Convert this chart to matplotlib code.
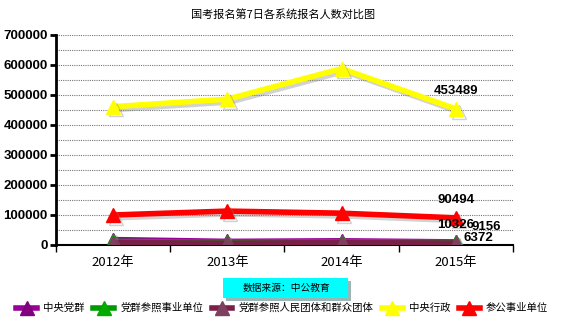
import matplotlib
matplotlib.use('Agg')
import matplotlib.pyplot as plt
import matplotlib.patheffects as pe
from matplotlib.lines import Line2D
from matplotlib.patches import Rectangle

plt.rcParams['font.family'] = ['Noto Sans CJK SC', 'DejaVu Sans']

years = ['2012年', '2013年', '2014年', '2015年']
names = ['中央党群', '党群参照事业单位', '党群参照人民团体和群众团体', '中央行政', '参公事业单位']
colors = ['#990099', '#009900', '#7a1f4a', '#ffff00', '#ff0000']
marker_colors = ['#800080', '#00aa00', '#7f4060', '#ffff00', '#ff0000']

zhongyang_dangqun = [18000, 12000, 14000, 10326]
dangqun_shiye = [12000, 9000, 11000, 9156]
dangqun_tuanti = [8000, 6000, 8000, 6372]
zhongyang_xingzheng = [461000, 486000, 588000, 453489]
cangong_shiye = [100000, 113000, 106000, 90494]
series = [zhongyang_dangqun, dangqun_shiye, dangqun_tuanti, zhongyang_xingzheng, cangong_shiye]

fig = plt.figure(figsize=(5.7, 3.27), dpi=100)
ax = fig.add_axes([0.0982, 0.2508, 0.8018, 0.6422])

x = [i + 0.5 for i in range(len(years))]
shadow = [pe.SimpleLineShadow(offset=(2, -2), alpha=0.35, shadow_color='gray'), pe.Normal()]
for vals, c, mc in zip(series, colors, marker_colors):
    ax.plot(x, vals, color=c, lw=4, marker='^', markersize=10, markerfacecolor=mc,
            markeredgecolor=mc, solid_capstyle='butt', path_effects=shadow, zorder=3)

num = dict(family=['Liberation Sans', 'DejaVu Sans'], fontweight='bold')

ax.set_xlim(0, 4)
ax.set_ylim(0, 700000)
ax.set_yticks(range(0, 700001, 100000))
ax.set_yticks(range(50000, 700000, 100000), minor=True)
ax.yaxis.grid(True, which='both', linestyle=(0, (1, 1)), color='#777777', lw=0.8)
ax.set_yticklabels([str(v) for v in range(0, 700001, 100000)], fontsize=9.5, **num)
ax.tick_params(axis='y', which='major', direction='out', length=4, width=2, pad=2)
ax.tick_params(axis='y', which='minor', length=0)

ax.set_xticks([0, 1, 2, 3, 4])
ax.set_xticklabels([])
ax.set_xticks(x, minor=True)
ax.set_xticklabels(years, minor=True, fontsize=9.5)
ax.tick_params(axis='x', which='major', direction='out', length=5, width=1)
ax.tick_params(axis='x', which='minor', length=0, pad=8)

for s in ['top', 'right']:
    ax.spines[s].set_visible(False)
ax.spines['left'].set_linewidth(2)
ax.spines['bottom'].set_linewidth(1.5)

lab = dict(fontsize=9.5, textcoords='offset points', ha='center', va='center', **num)
ax.annotate(str(zhongyang_xingzheng[3]), (x[3], zhongyang_xingzheng[3]), xytext=(0, 13), **lab)
ax.annotate(str(cangong_shiye[3]), (x[3], cangong_shiye[3]), xytext=(0, 13), **lab)
ax.annotate(str(zhongyang_dangqun[3]), (x[3], zhongyang_dangqun[3]), xytext=(0, 12), **lab)
ax.annotate(str(dangqun_shiye[3]), (x[3], dangqun_shiye[3]), xytext=(22, 11), **lab)
ax.annotate(str(dangqun_tuanti[3]), (x[3], dangqun_tuanti[3]), xytext=(16, 4), **lab)

fig.text(0.497, 0.957, '国考报名第7日各系统报名人数对比图', ha='center', va='center', fontsize=8)

box = Rectangle((0.391, 0.0887), 0.22, 0.0613, transform=fig.transFigure, facecolor='#00ffff',
                edgecolor='none', path_effects=[pe.SimplePatchShadow(offset=(2, -2), alpha=0.4), pe.Normal()])
fig.patches.append(box)
fig.text(0.502, 0.119, '数据来源：中公教育', ha='center', va='center', fontsize=7)

handles = [Line2D([], [], color=c, lw=4, marker='^', markersize=10, markerfacecolor=mc,
                  markeredgecolor=mc) for c, mc in zip(colors, marker_colors)]
fig.legend(handles, names, loc='center', bbox_to_anchor=(0.495, 0.058), ncol=5, frameon=False,
           fontsize=7.5, handlelength=2.0, columnspacing=0.8, handletextpad=0.6)

fig.savefig('out.png', dpi=100, facecolor='white')
